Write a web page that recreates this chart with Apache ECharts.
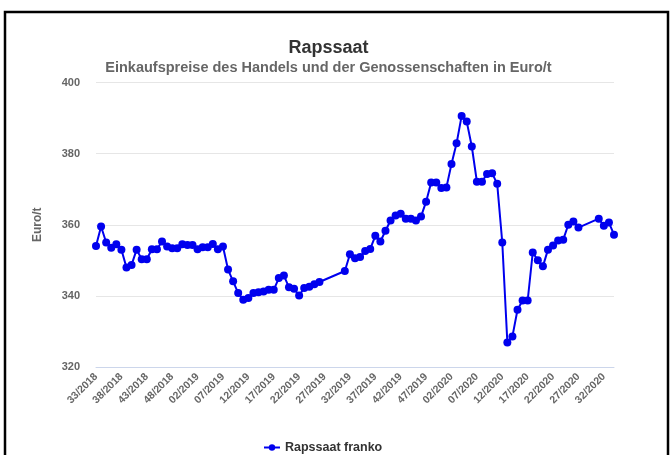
<!DOCTYPE html>
<html><head><meta charset="utf-8">
<script src="https://cdn.jsdelivr.net/npm/echarts@6/dist/echarts.min.js"></script>
<style>html,body{margin:0;padding:0;background:#fff}#c{width:671px;height:455px}</style>
</head><body><div id="c"></div>
<script>
var categories = [
"33/2018","34/2018","35/2018","36/2018","37/2018","38/2018","39/2018","40/2018","41/2018","42/2018",
"43/2018","44/2018","45/2018","46/2018","47/2018","48/2018","49/2018","50/2018","51/2018","52/2018",
"02/2019","03/2019","04/2019","05/2019","06/2019","07/2019","08/2019","09/2019","10/2019","11/2019",
"12/2019","13/2019","14/2019","15/2019","16/2019","17/2019","18/2019","19/2019","20/2019","21/2019",
"22/2019","23/2019","24/2019","25/2019","26/2019","27/2019","28/2019","29/2019","30/2019","31/2019",
"32/2019","33/2019","34/2019","35/2019","36/2019","37/2019","38/2019","39/2019","40/2019","41/2019",
"42/2019","43/2019","44/2019","45/2019","46/2019","47/2019","48/2019","49/2019","50/2019","51/2019",
"02/2020","03/2020","04/2020","05/2020","06/2020","07/2020","08/2020","09/2020","10/2020","11/2020",
"12/2020","13/2020","14/2020","15/2020","16/2020","17/2020","18/2020","19/2020","20/2020","21/2020",
"22/2020","23/2020","24/2020","25/2020","26/2020","27/2020","28/2020","29/2020","30/2020","31/2020",
"32/2020","33/2020","34/2020"];
var rapssaatFranko = [
354,359.5,355,353.5,354.5,353,348,348.7,353,350.3,
350.3,353.1,353.1,355.3,353.9,353.4,353.4,354.5,354.3,354.3,
353.1,353.7,353.7,354.6,353.1,353.9,347.4,344.1,340.8,338.9,
339.4,340.8,341,341.2,341.7,341.7,345,345.7,342.4,342,
340.1,342.2,342.6,343.3,343.9,null,null,null,null,347,
351.7,350.6,350.9,352.6,353.2,356.9,355.3,358.3,361.2,362.6,
363.1,361.7,361.7,361.2,362.3,366.5,371.9,371.9,370.3,370.5,
377.1,382.9,390.6,389,382,372.1,372.1,374.3,374.5,371.5,
355,326.9,328.6,336.1,338.7,338.7,352.2,350,348.3,353,
354.2,355.6,355.8,360,360.9,359.2,null,null,null,361.7,
359.7,360.6,357.2];
var yTicks = {min: 320, max: 400, interval: 20};

var FONT = 'Liberation Sans, Arial, sans-serif';
var chart = echarts.init(document.getElementById('c'), null, {renderer: 'canvas'});
chart.setOption({
  animation: false,
  backgroundColor: '#fff',
  graphic: [{
    type: 'rect', shape: {x: 5, y: 12, width: 663, height: 460},
    style: {fill: 'none', stroke: '#000', lineWidth: 2.5}, silent: true
  }],
  title: [{
    text: 'Rapssaat', left: 323.5, top: 34, textAlign: 'center',
    textStyle: {fontFamily: FONT, fontSize: 18, fontWeight: 'bold', color: '#333'}
  }, {
    text: 'Einkaufspreise des Handels und der Genossenschaften in Euro/t', left: 323.5, top: 55, textAlign: 'center',
    textStyle: {fontFamily: FONT, fontSize: 14.5, fontWeight: 'bold', color: '#666'}
  }],
  legend: {
    top: 436, left: 258,
    itemWidth: 16, itemHeight: 8, itemGap: 10,
    textStyle: {fontFamily: FONT, fontSize: 12.5, fontWeight: 'bold', color: '#333'},
    data: ['Rapssaat franko']
  },
  grid: {left: 96, right: 57, top: 82.5, bottom: 88, containLabel: false},
  xAxis: {
    type: 'category', data: categories, boundaryGap: false,
    axisLine: {lineStyle: {color: '#ccd6eb'}},
    axisTick: {show: false},
    axisLabel: {
      interval: 4, rotate: 45, margin: 8,
      fontFamily: FONT, fontSize: 10.5, fontWeight: 'bold', color: '#666'
    },
    splitLine: {show: false}
  },
  yAxis: {
    type: 'value', min: yTicks.min, max: yTicks.max, interval: yTicks.interval,
    name: 'Euro/t', nameLocation: 'middle', nameGap: 52, nameRotate: 90,
    nameTextStyle: {fontFamily: FONT, fontSize: 12, fontWeight: 'bold', color: '#666'},
    axisLine: {show: false}, axisTick: {show: false},
    axisLabel: {margin: 16, fontFamily: FONT, fontSize: 11, fontWeight: 'bold', color: '#666'},
    splitLine: {lineStyle: {color: '#e6e6e6'}}
  },
  series: [{
    name: 'Rapssaat franko', type: 'line', data: rapssaatFranko,
    connectNulls: true, symbol: 'circle', symbolSize: 8, showAllSymbol: true,
    lineStyle: {color: '#0000ee', width: 2},
    itemStyle: {color: '#0000ee'}
  }]
});
</script></body></html>
